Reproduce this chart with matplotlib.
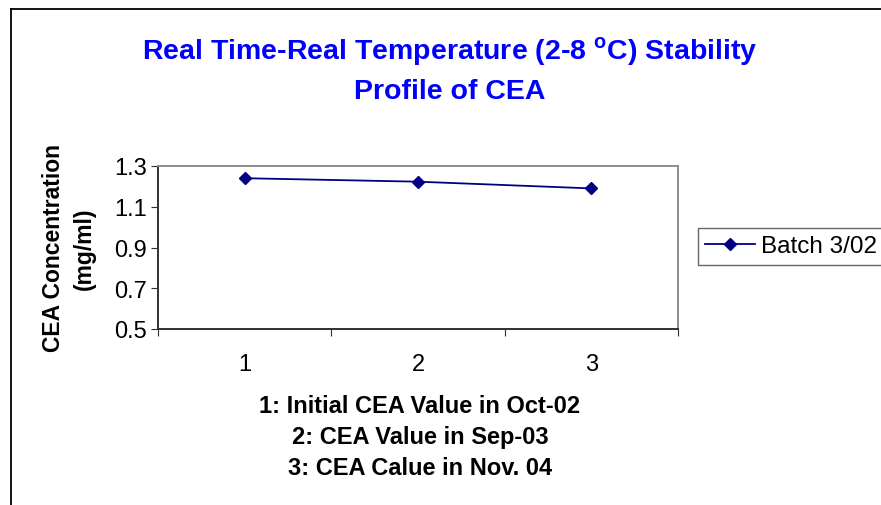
import matplotlib
matplotlib.use("Agg")
import matplotlib.pyplot as plt
from matplotlib.lines import Line2D

# data
categories = [1, 2, 3]
cat_labels = ["1", "2", "3"]
batch_302 = [1.24, 1.223, 1.19]
series_name = "Batch 3/02"
y_ticks = [0.5, 0.7, 0.9, 1.1, 1.3]
footnotes = ["1: Initial CEA Value in Oct-02",
             "2: CEA Value in Sep-03",
             "3: CEA Calue in Nov. 04"]

plt.rcParams["font.family"] = ["Liberation Sans", "DejaVu Sans"]
plt.rcParams["mathtext.fontset"] = "custom"
plt.rcParams["mathtext.rm"] = "Liberation Sans:bold"

fig = plt.figure(figsize=(8.81, 5.06), dpi=100)
ax = fig.add_axes([158 / 881, 1 - 330 / 506, 520 / 881, 163 / 506])

ax.plot(categories, batch_302, color="#000080", lw=1.3, marker="D",
        markersize=6.5, label=series_name)

ax.set_xlim(0.5, 3.5)
ax.set_ylim(0.5, 1.3)
ax.set_yticks(y_ticks)
ax.set_yticklabels([f"{v:.1f}" for v in y_ticks])
ax.set_xticks([c - 0.5 for c in categories] + [categories[-1] + 0.5])
ax.set_xticklabels([])
ax.set_xticks(categories, minor=True)
ax.set_xticklabels(cat_labels, minor=True)
ax.tick_params(axis="x", which="minor", length=0, pad=17, labelsize=17)
ax.tick_params(axis="x", which="major", direction="out", length=5, color="#303030")
ax.tick_params(axis="y", direction="out", length=5, labelsize=17, pad=3,
               color="#303030")

for side in ["left", "bottom"]:
    ax.spines[side].set_color("#303030")
    ax.spines[side].set_linewidth(1.4)
for side in ["top", "right"]:
    ax.spines[side].set_color("#8c8c8c")
    ax.spines[side].set_linewidth(1.4)

ax.set_ylabel("CEA Concentration\n(mg/ml)", fontsize=16.5, fontweight="bold",
              labelpad=13, linespacing=1.45)

fig.text(450 / 881, 1 - 52 / 506,
         r"Real Time-Real Temperature (2-8 $^{\mathrm{o}}$C) Stability",
         ha="center", va="center", color="#0000ff", fontsize=20.5,
         fontweight="bold")
fig.text(450 / 881, 1 - 92 / 506, "Profile of CEA",
         ha="center", va="center", color="#0000ff", fontsize=20.5,
         fontweight="bold")

for i, line in enumerate(footnotes):
    fig.text(420 / 881, 1 - (407 + 31 * i) / 506, line, ha="center",
             va="center", fontsize=17, fontweight="bold")

leg = fig.legend(loc="upper left", bbox_to_anchor=(698 / 881, 1 - 229 / 506),
                 frameon=True, fancybox=False, fontsize=17.5, handlelength=2.05,
                 borderpad=0.3, handletextpad=0.25, borderaxespad=0)
leg.get_frame().set_edgecolor("#404040")
leg.get_frame().set_linewidth(1.0)

# outer chart frame (left and top edges visible)
fig.add_artist(Line2D([11 / 881, 11 / 881], [0, 1 - 10 / 506], color="black",
                      lw=1.3, transform=fig.transFigure))
fig.add_artist(Line2D([11 / 881, 1], [1 - 10 / 506, 1 - 10 / 506], color="black",
                      lw=1.3, transform=fig.transFigure))

fig.savefig("out.png", dpi=100)
